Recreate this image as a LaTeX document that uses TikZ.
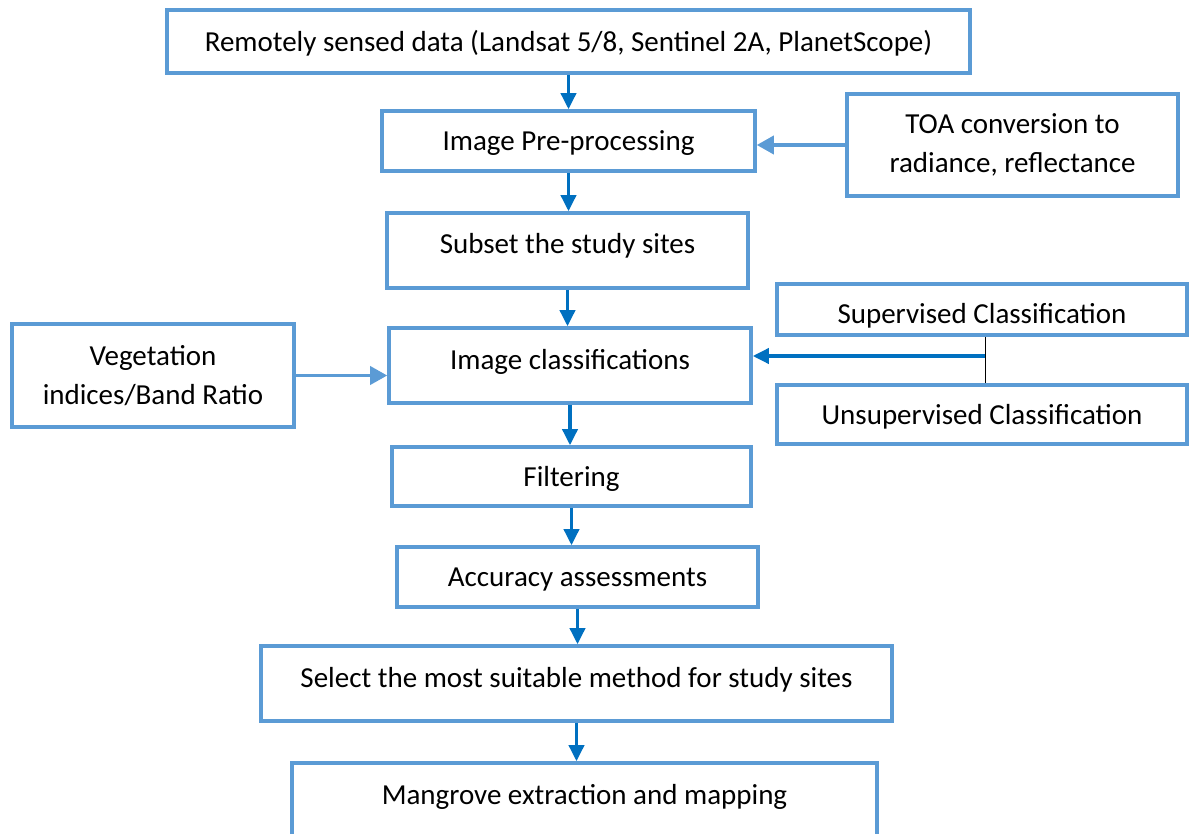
\documentclass[tikz,border=0pt]{standalone}
\usepackage{fontspec}
\setmainfont{Carlito}
\usepackage{xcolor}
\usetikzlibrary{arrows.meta, positioning}

\definecolor{boxblue}{HTML}{5B9BD5}
\definecolor{arrowblue}{HTML}{0070C0}

\tikzset{
  box/.style={draw=boxblue, line width=2pt, fill=white, align=center, inner sep=0pt},
  onebox/.style={box, text height=5.2mm, text depth=1.3mm},
  flow/.style={draw=arrowblue, line width=2pt, -{Triangle[length=3.2mm, width=3mm]}},
  sideflow/.style={draw=boxblue, line width=2pt, -{Triangle[length=3.4mm, width=3.6mm]}},
  joint/.style={draw=black, line width=0.5pt}
}

\begin{document}
\begin{tikzpicture}[x=0.2mm, y=-0.2mm, font=\fontsize{16.5}{22}\selectfont]
\useasboundingbox (0,0) rectangle (1189,834);

% Nodes
\node[onebox, minimum width=160.6mm, minimum height=12.6mm] (data) at (568.5,41.5) {Remotely sensed data (Landsat 5/8, Sentinel 2A, PlanetScope)};
\node[onebox, minimum width=74.6mm, minimum height=12mm] (prep) at (568.5,141) {Image Pre-processing};
\node[box, minimum width=66.2mm, minimum height=20.4mm] (toa) at (1012.5,145) {TOA conversion to\\radiance, reflectance};
\node[onebox, minimum width=72.2mm, minimum height=15mm, text depth=4.1mm] (subset) at (567.5,250.5) {Subset the study sites};
\node[onebox, minimum width=82mm, minimum height=10.2mm, text height=7mm] (sup) at (982,309.5) {Supervised Classification};
\node[onebox, minimum width=72.4mm, minimum height=15mm, text depth=3.5mm] (cls) at (570,365.5) {Image classifications};
\node[box, minimum width=56.4mm, minimum height=20.6mm] (veg) at (153,375.5) {Vegetation\\indices/Band Ratio};
\node[onebox, minimum width=82mm, minimum height=11.8mm] (unsup) at (982,414.5) {Unsupervised Classification};
\node[onebox, minimum width=71.8mm, minimum height=11.8mm] (filter) at (571.5,476.5) {Filtering};
\node[onebox, minimum width=72.2mm, minimum height=12mm] (acc) at (577.5,577) {Accuracy assessments};
\node[onebox, minimum width=126.2mm, minimum height=15mm, text depth=3.5mm] (select) at (576.5,683.5) {Select the most suitable method for study sites};
\node[onebox, minimum width=117mm, minimum height=17.4mm, text depth=5.9mm] (mangrove) at (584.5,806.5) {Mangrove extraction and mapping};
\coordinate (junc) at (985,356);

% Arrows
\draw[flow] (data.south) -- (data.south |- prep.north);
\draw[flow] (prep.south) -- (prep.south |- subset.north);
\draw[flow] (subset.south) -- (subset.south |- cls.north);
\draw[flow] (cls.south) -- (cls.south |- filter.north);
\draw[flow] (filter.south) -- (filter.south |- acc.north);
\draw[flow] (acc.south) -- (acc.south |- select.north);
\draw[flow] (select.south) -- (select.south |- mangrove.north);

% Side inputs
\draw[sideflow] (toa.west) -- (toa.west -| prep.east);
\draw[sideflow] (veg.east) -- (veg.east -| cls.west);
\draw[joint] (junc |- sup.south) -- (junc |- unsup.north);
\draw[flow] (junc) -- (junc -| cls.east);
\end{tikzpicture}
\end{document}
